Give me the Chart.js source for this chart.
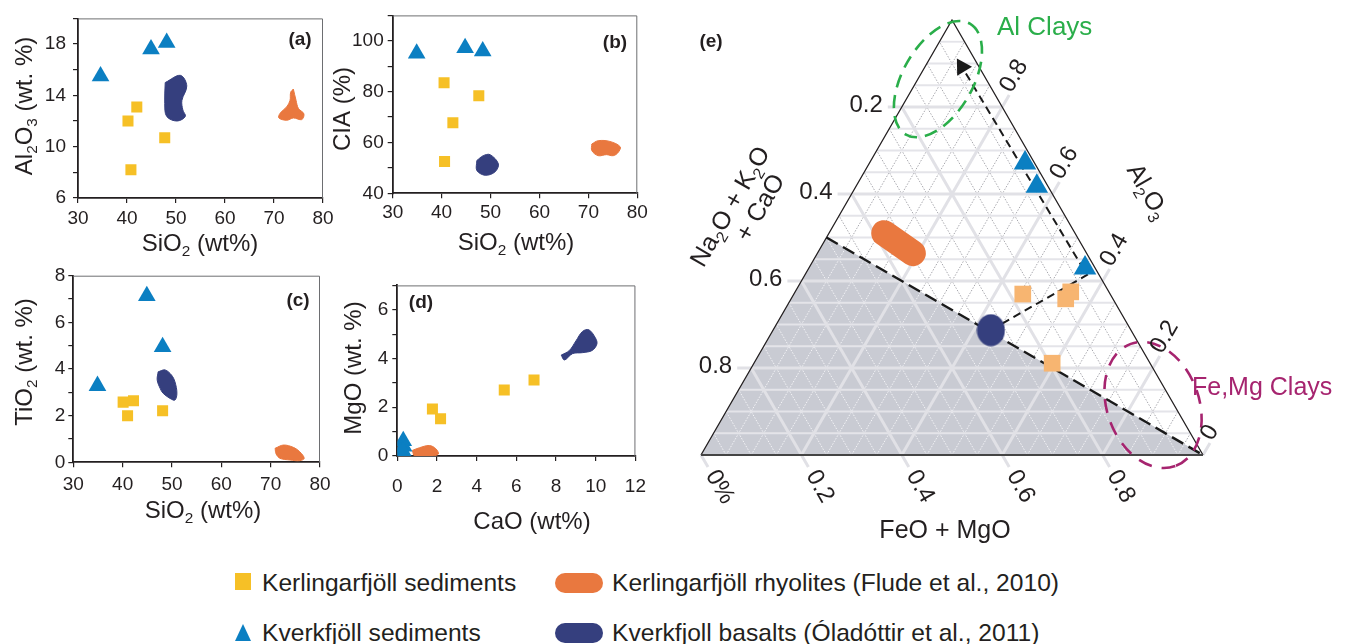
<!DOCTYPE html>
<html><head><meta charset="utf-8">
<script src="https://cdn.jsdelivr.net/npm/chart.js@4.4.0/dist/chart.umd.min.js"></script>
<style>
html,body{margin:0;padding:0;background:#fff;}
body{width:1352px;height:644px;overflow:hidden;position:relative;font-family:'Liberation Sans',Arial,Helvetica,sans-serif;}
canvas{position:absolute;}
.lt{position:absolute;font-size:24.6px;color:#231f20;white-space:nowrap;line-height:25px;}
.sw{position:absolute;}
</style></head><body>
<canvas id="ca" width="340" height="262" style="left:0;top:0"></canvas>
<canvas id="cb" width="340" height="262" style="left:320px;top:0"></canvas>
<canvas id="cc" width="340" height="290" style="left:0;top:250px"></canvas>
<canvas id="cd" width="340" height="275" style="left:320px;top:270px"></canvas>
<canvas id="ce" width="672" height="560" style="left:680px;top:0"></canvas>

<div class="sw" style="left:235px;top:573px;width:16px;height:17px;background:#f6c026"></div>
<div class="lt" style="left:262px;top:570px">Kerlingarfjöll sediments</div>
<div class="sw" style="left:555px;top:573px;width:48px;height:20px;border-radius:10px;background:#e9783f"></div>
<div class="lt" style="left:612px;top:570px">Kerlingarfjöll rhyolites (Flude et al., 2010)</div>
<div class="sw" style="left:235px;top:624px;width:0;height:0;border-left:8px solid transparent;border-right:8px solid transparent;border-bottom:17px solid #0b7fc2"></div>
<div class="lt" style="left:262px;top:620px">Kverkfjöll sediments</div>
<div class="sw" style="left:555px;top:623px;width:48px;height:20px;border-radius:10px;background:#353f7e"></div>
<div class="lt" style="left:612px;top:620px">Kverkfjoll basalts (Óladóttir et al., 2011)</div>

<script>
// ===================== DATA =====================
// (a) SiO2 vs Al2O3
const aKerSedSi = [42.0, 40.2, 47.7, 40.8];
const aKerSedAl = [13.1, 12.0, 10.7, 8.2];
const aKvkSedSi = [34.6, 44.9, 48.1];
const aKvkSedAl = [15.5, 17.6, 18.1];
const aBasaltSi = [47.8, 50.9, 52.2, 51.2, 51.4, 51.9, 50.2, 48.1, 47.7];
const aBasaltAl = [15.0, 15.56, 14.74, 13.6, 12.86, 12.36, 12.0, 12.36, 13.36];
const aRhyoSi = [73.95, 74.5, 74.97, 76.1, 75.66, 73.95, 72.6, 71.0, 71.24, 72.6, 73.27, 73.4];
const aRhyoAl = [14.49, 13.61, 12.99, 12.56, 12.11, 12.24, 12.06, 12.24, 12.61, 13.11, 13.61, 14.24];
const aXTicks = [30, 40, 50, 60, 70, 80];
const aYTicks = [6, 10, 14, 18];

// (b) SiO2 vs CIA
const bKerSedSi = [40.5, 47.6, 42.3, 40.6];
const bKerSedCIA = [83.5, 78.4, 67.8, 52.5];
const bKvkSedSi = [34.9, 44.8, 48.4];
const bKvkSedCIA = [95.0, 97.2, 95.9];
const bBasaltSi = [47.2, 48.5, 49.9, 51.6, 50.9, 48.9, 47.2];
const bBasaltCIA = [52.9, 54.8, 55.2, 51.6, 48.4, 47.1, 49.0];
const bRhyoSi = [70.7, 72.0, 74.4, 76.5, 76.1, 75.1, 73.7, 72.0, 70.7];
const bRhyoCIA = [59.4, 60.7, 60.4, 58.3, 56.1, 54.8, 55.2, 54.8, 56.8];
const bXTicks = [30, 40, 50, 60, 70, 80];
const bYTicks = [40, 60, 80, 100];

// (c) SiO2 vs TiO2
const cKerSedSi = [40.1, 42.2, 41.0, 48.1];
const cKerSedTi = [2.58, 2.64, 2.0, 2.21];
const cKvkSedSi = [44.9, 48.1, 34.9];
const cKvkSedTi = [7.13, 4.95, 3.28];
const cBasaltSi = [47.2, 48.6, 49.9, 50.6, 51.0, 50.6, 49.6, 48.2, 47.6, 47.0];
const cBasaltTi = [3.88, 3.96, 3.74, 3.45, 2.96, 2.67, 2.74, 2.96, 3.17, 3.53];
const cRhyoSi = [70.9, 72.6, 74.6, 75.9, 76.8, 75.9, 73.9, 71.9, 71.1];
const cRhyoTi = [0.6, 0.74, 0.64, 0.45, 0.17, 0.07, 0.1, 0.17, 0.36];
const cXTicks = [30, 40, 50, 60, 70, 80];
const cYTicks = [0, 2, 4, 6, 8];

// (d) CaO vs MgO
const dKerSedCa = [1.77, 2.18, 5.39, 6.89];
const dKerSedMg = [1.93, 1.53, 2.71, 3.12];
const dKvkSedCa = [0.3, 0.32, 0.28];
const dKvkSedMg = [0.62, 0.39, 0.2];
const dBasaltCa = [8.26, 8.67, 9.0, 9.33, 9.65, 9.98, 10.06, 9.82, 9.33, 8.83, 8.42];
const dBasaltMg = [4.14, 4.33, 4.72, 5.11, 5.18, 4.85, 4.6, 4.33, 4.24, 4.2, 3.94];
const dRhyoCa = [0.76, 1.12, 1.61, 1.94, 2.07, 1.77, 1.28, 0.87];
const dRhyoMg = [0.23, 0.34, 0.43, 0.3, 0.08, 0.0, -0.03, 0.0];
const dXTicks = [0, 2, 4, 6, 8, 10, 12];
const dYTicks = [0, 2, 4, 6];

// (e) ternary: Al2O3 fraction (A) and FeO+MgO fraction (FM)
const eKerSedA = [0.370, 0.375, 0.359, 0.211];
const eKerSedFM = [0.456, 0.549, 0.547, 0.594];
const eKvkSedA = [0.671, 0.618, 0.430];
const eKvkSedFM = [0.310, 0.360, 0.550];
const eBasaltA = [0.287];
const eBasaltFM = [0.434];
const eRhyoA = [0.510, 0.464];
const eRhyoFM = [0.110, 0.190];
const eTrendA = [0.287, 0.414, 0.892];
const eTrendFM = [0.434, 0.562, 0.074];
const eFieldA = [0, 0.5, 0];
const eFieldFM = [0, 0, 1];
const eBoundaryA = [0.5, 0];
const eBoundaryFM = [0, 1];
const eClayNames = ['Al Clays', 'Fe,Mg Clays'];
const eClayA = [0.864, 0.115];
const eClayFM = [0.040, 0.843];
const eLeftTickA = [0.8, 0.6, 0.4, 0.2];
const eLeftTickLabels = ['0.2', '0.4', '0.6', '0.8'];
const eBottomTickPos = [0, 0.2, 0.4, 0.6, 0.8];
const eBottomTickLabels = ['0%', '0.2', '0.4', '0.6', '0.8'];
const eRightTickA = [0, 0.2, 0.4, 0.6, 0.8];
const eRightTickLabels = ['0', '0.2', '0.4', '0.6', '0.8'];

// ===================== STYLE / HELPERS =====================
const FONT = "'Liberation Sans', Arial, Helvetica, sans-serif";
const INK = '#231f20';
const C_YEL = '#f6c026', C_BLUE = '#0b7fc2', C_NAVY = '#353f7e', C_ORG = '#e9783f', C_PEACH = '#f7b571';

const pts = (xs, ys) => xs.map((x, i) => ({x, y: ys[i]}));
const closed = (xs, ys) => { const p = pts(xs, ys); p.push({...p[0]}); return p; };

function drawRich(ctx, parts, x, y, rot, size, color, align) {
  ctx.save();
  ctx.translate(x, y); ctx.rotate(rot * Math.PI / 180);
  ctx.fillStyle = color; ctx.textBaseline = 'middle'; ctx.textAlign = 'left';
  let w = 0;
  for (const [t, s] of parts) { ctx.font = (s ? size * 0.64 : size) + 'px ' + FONT; w += ctx.measureText(t).width; }
  let cx = align === 'left' ? 0 : (align === 'right' ? -w : -w / 2);
  for (const [t, s] of parts) {
    ctx.font = (s ? size * 0.64 : size) + 'px ' + FONT;
    ctx.fillText(t, cx, s ? size * 0.33 : 0);
    cx += ctx.measureText(t).width;
  }
  ctx.restore();
}

function makePanel(id, o) {
  const frame = {
    id: 'frame_' + id,
    afterDraw(chart) {
      const {ctx, chartArea: ca} = chart;
      ctx.save();
      ctx.strokeStyle = '#6d6e71'; ctx.lineWidth = 1;
      ctx.beginPath();
      ctx.moveTo(ca.left, ca.top + 0.5); ctx.lineTo(ca.right - 0.5, ca.top + 0.5); ctx.lineTo(ca.right - 0.5, ca.bottom);
      ctx.stroke();
      drawRich(ctx, o.xTitle, o.xTitlePos[0], o.xTitlePos[1], 0, 24, INK, 'center');
      drawRich(ctx, o.yTitle, o.yTitlePos[0], o.yTitlePos[1], -90, 24, INK, 'center');
      ctx.font = 'bold 19px ' + FONT; ctx.fillStyle = INK; ctx.textAlign = 'center'; ctx.textBaseline = 'middle';
      ctx.fillText(o.tag, o.tagPos[0], o.tagPos[1]);
      ctx.restore();
    }
  };
  const blob = (data, color) => ({type: 'line', data, fill: 'shape', backgroundColor: color, borderColor: color,
    borderWidth: 1, tension: 0.35, pointRadius: 0, order: 5});
  return new Chart(document.getElementById(id), {
    type: 'scatter',
    data: {datasets: [
      {label: 'Kerlingarfjöll sediments', data: o.ker, pointStyle: 'rect', pointRadius: 7.8, backgroundColor: C_YEL, borderWidth: 0, order: 1},
      {label: 'Kverkfjöll sediments', data: o.kvk, pointStyle: 'triangle', pointRadius: 10.2, backgroundColor: C_BLUE, borderWidth: 0, order: 1},
      blob(o.basalt, C_NAVY),
      blob(o.rhyo, C_ORG)
    ]},
    options: {
      responsive: false, animation: false, devicePixelRatio: 1, events: [],
      layout: {padding: {left: 0, right: o.padR, top: o.padT, bottom: 0}},
      plugins: {legend: {display: false}, tooltip: {enabled: false}},
      scales: {
        x: {type: 'linear', min: o.xMin, max: o.xMax, afterFit: s => { s.height = o.xH; },
          ticks: {stepSize: o.xStep, autoSkip: false, maxRotation: 0, padding: o.xPad, color: INK,
            font: {size: 19, family: FONT}, callback: v => o.xLabels.includes(v) ? String(v) : ''},
          grid: {display: true, drawOnChartArea: false, drawTicks: true, tickLength: 5, color: INK, lineWidth: 1.2},
          border: {display: true, color: INK, width: 1.8}},
        y: {type: 'linear', min: o.yMin, max: o.yMax, afterFit: s => { s.width = o.yW; },
          ticks: {stepSize: o.yStep, autoSkip: false, padding: o.yPad, color: INK,
            font: {size: 19, family: FONT}, callback: v => o.yLabels.includes(v) ? String(v) : ''},
          grid: {display: true, drawOnChartArea: false, drawTicks: true, tickLength: 5, color: INK, lineWidth: 1.2},
          border: {display: true, color: INK, width: 1.8}}
      }
    },
    plugins: [frame]
  });
}

makePanel('ca', {
  ker: pts(aKerSedSi, aKerSedAl), kvk: pts(aKvkSedSi, aKvkSedAl),
  basalt: closed(aBasaltSi, aBasaltAl), rhyo: closed(aRhyoSi, aRhyoAl),
  xMin: 30, xMax: 80, xStep: 10, xLabels: aXTicks, yMin: 6, yMax: 20, yStep: 2, yLabels: aYTicks,
  padR: 17, padT: 12, xH: 64, yW: 78, xPad: 4, yPad: 7,
  xTitle: [['SiO'], ['2', 1], [' (wt%)']], xTitlePos: [200, 244],
  yTitle: [['Al'], ['2', 1], ['O'], ['3', 1], [' (wt. %)']], yTitlePos: [25, 106],
  tag: '(a)', tagPos: [300, 40]
});
makePanel('cb', {
  ker: pts(bKerSedSi, bKerSedCIA), kvk: pts(bKvkSedSi, bKvkSedCIA),
  basalt: closed(bBasaltSi, bBasaltCIA), rhyo: closed(bRhyoSi, bRhyoCIA),
  xMin: 30, xMax: 80, xStep: 10, xLabels: bXTicks, yMin: 40, yMax: 110, yStep: 10, yLabels: bYTicks,
  padR: 22.7, padT: 12.7, xH: 68.7, yW: 72.7, xPad: 3, yPad: 4,
  xTitle: [['SiO'], ['2', 1], [' (wt%)']], xTitlePos: [196, 243],
  yTitle: [['CIA (%)']], yTitlePos: [23, 109],
  tag: '(b)', tagPos: [295, 43]
});
makePanel('cc', {
  ker: pts(cKerSedSi, cKerSedTi), kvk: pts(cKvkSedSi, cKvkSedTi),
  basalt: closed(cBasaltSi, cBasaltTi), rhyo: closed(cRhyoSi, cRhyoTi),
  xMin: 30, xMax: 80, xStep: 10, xLabels: cXTicks, yMin: 0, yMax: 8, yStep: 1, yLabels: cYTicks,
  padR: 20, padT: 25.7, xH: 77.7, yW: 73.3, xPad: 6, yPad: 3,
  xTitle: [['SiO'], ['2', 1], [' (wt%)']], xTitlePos: [203, 261],
  yTitle: [['TiO'], ['2', 1], [' (wt. %)']], yTitlePos: [25, 112],
  tag: '(c)', tagPos: [298, 51]
});
makePanel('cd', {
  ker: pts(dKerSedCa, dKerSedMg), kvk: pts(dKvkSedCa, dKvkSedMg),
  basalt: closed(dBasaltCa, dBasaltMg), rhyo: closed(dRhyoCa, dRhyoMg),
  xMin: 0, xMax: 12, xStep: 2, xLabels: dXTicks, yMin: 0, yMax: 7, yStep: 1, yLabels: dYTicks,
  padR: 19, padT: 6.7, xH: 89, yW: 77.3, xPad: 14, yPad: 4,
  xTitle: [['CaO (wt%)']], xTitlePos: [212, 252],
  yTitle: [['MgO (wt. %)']], yTitlePos: [34, 98],
  tag: '(d)', tagPos: [101, 33]
});

// ===================== TERNARY (e) =====================
const T = (a, fm) => ({x: fm + a / 2, y: a});
const tpts = (as, fms) => as.map((a, i) => T(a, fms[i]));

const basaltImg = (() => {
  const c = document.createElement('canvas'); c.width = 29; c.height = 33;
  const g = c.getContext('2d'); g.fillStyle = C_NAVY;
  g.beginPath(); g.ellipse(14.5, 16.5, 14, 16, 0, 0, Math.PI * 2); g.fill();
  return c;
})();

const clayStyle = [
  {rx: 64, ry: 35, rot: -60, color: '#2aae4a', dash: [13, 8], text: [997 - 680, 28], size: 26},
  {rx: 65, ry: 46, rot: 70, color: '#a6246f', dash: [14, 10], text: [1192 - 680, 388], size: 25}
];

const ternGrid = {
  id: 'ternGrid',
  afterDatasetDraw(chart, args) {
    if (args.index !== 0) return;
    const ctx = chart.ctx, xs = chart.scales.x, ys = chart.scales.y;
    const P = (a, fm) => [xs.getPixelForValue(fm + a / 2), ys.getPixelForValue(a)];
    const line = (p, q) => { ctx.beginPath(); ctx.moveTo(p[0], p[1]); ctx.lineTo(q[0], q[1]); ctx.stroke(); };
    const steps = []; for (let i = 1; i < 20; i++) steps.push(i / 20);
    ctx.save();
    const diag = (color) => {
      ctx.strokeStyle = color; ctx.lineWidth = 1; ctx.setLineDash([1.5, 1.5]);
      for (const c of steps) { line(P(0, c), P(1 - c, c)); line(P(0, c), P(c, 0)); }
    };
    diag('#a8a8ae');
    ctx.save();
    const f = tpts(eFieldA, eFieldFM).map(p => [xs.getPixelForValue(p.x), ys.getPixelForValue(p.y)]);
    ctx.beginPath(); ctx.moveTo(f[0][0], f[0][1]); f.slice(1).forEach(p => ctx.lineTo(p[0], p[1])); ctx.closePath(); ctx.clip();
    ctx.fillStyle = '#c9cbd3'; ctx.fillRect(0, 0, chart.width, chart.height);
    diag('#f3f3f6');
    ctx.restore();
    ctx.setLineDash([]);
    ctx.strokeStyle = '#e4e4e9'; ctx.lineWidth = 1.8;
    for (const k of steps) line(P(k, 0), P(k, 1 - k));
    ctx.lineWidth = 3; ctx.strokeStyle = '#e1e1e6';
    const u = 0.5, v = Math.sqrt(3) / 2, stub = 14;
    for (const k of [0.2, 0.4, 0.6, 0.8]) {
      const p = P(k, 0), q = P(k, 1 - k); line([p[0] - stub, p[1]], q);
      const b = P(0, k), r = P(1 - k, k); line(b, [r[0] + stub * u, r[1] - stub * v]);
      const b2 = P(0, k), l2 = P(k, 0); line([b2[0] + stub * u, b2[1] + stub * v], l2);
    }
    const bl = P(0, 0), br = P(0, 1);
    line(bl, [bl[0] + stub * u, bl[1] + stub * v]);
    line(br, [br[0] + stub * u, br[1] - stub * v]);
    // triangle outline
    ctx.strokeStyle = INK; ctx.lineWidth = 1.3;
    const ap = P(1, 0);
    ctx.beginPath(); ctx.moveTo(bl[0], bl[1]); ctx.lineTo(ap[0], ap[1]); ctx.lineTo(br[0], br[1]); ctx.stroke();
    ctx.strokeStyle = '#454545'; ctx.lineWidth = 2;
    line(bl, br);
    ctx.restore();
  },
  afterDraw(chart) {
    const ctx = chart.ctx, xs = chart.scales.x, ys = chart.scales.y;
    const P = (a, fm) => [xs.getPixelForValue(fm + a / 2), ys.getPixelForValue(a)];
    ctx.save();
    // clay fields
    eClayNames.forEach((name, i) => {
      const st = clayStyle[i], c = P(eClayA[i], eClayFM[i]);
      ctx.save();
      ctx.strokeStyle = st.color; ctx.lineWidth = 2.6; ctx.setLineDash(st.dash);
      ctx.beginPath(); ctx.ellipse(c[0], c[1], st.rx, st.ry, st.rot * Math.PI / 180, 0, Math.PI * 2); ctx.stroke();
      ctx.restore();
      ctx.font = st.size + 'px ' + FONT; ctx.fillStyle = st.color; ctx.textAlign = 'left'; ctx.textBaseline = 'middle';
      ctx.fillText(name, st.text[0], st.text[1]);
    });
    // tick labels
    const u = 0.5, v = Math.sqrt(3) / 2;
    ctx.fillStyle = INK; ctx.font = '24px ' + FONT;
    ctx.textBaseline = 'middle'; ctx.textAlign = 'right';
    eLeftTickA.forEach((a, i) => { const p = P(a, 0); ctx.fillText(eLeftTickLabels[i], p[0] - 19, p[1] - 2); });
    ctx.textAlign = 'left';
    eBottomTickPos.forEach((c, i) => {
      const p = P(0, c);
      ctx.save(); ctx.translate(p[0] + 22 * u - 1, p[1] + 22 * v - 2); ctx.rotate(Math.PI / 3);
      ctx.fillText(eBottomTickLabels[i], 0, 0); ctx.restore();
    });
    eRightTickA.forEach((a, i) => {
      const p = P(a, 1 - a);
      ctx.save(); ctx.translate(p[0] + 19 * u - 6, p[1] - 19 * v); ctx.rotate(-Math.PI / 3);
      ctx.fillText(eRightTickLabels[i], 0, 0); ctx.restore();
    });
    // axis titles
    ctx.textAlign = 'center'; ctx.font = '25px ' + FONT;
    ctx.fillText('FeO + MgO', 265, 531);
    drawRich(ctx, [['Na'], ['2', 1], ['O + K'], ['2', 1], ['O']], 51, 207, -60, 25, INK, 'center');
    drawRich(ctx, [['+ CaO']], 81, 208, -60, 25, INK, 'center');
    drawRich(ctx, [['Al'], ['2', 1], ['O'], ['3', 1]], 467, 192, 60, 25, INK, 'center');
    ctx.font = 'bold 19px ' + FONT; ctx.textAlign = 'center'; ctx.fillStyle = INK;
    ctx.fillText('(e)', 31, 42);
    ctx.restore();
  }
};

new Chart(document.getElementById('ce'), {
  type: 'scatter',
  data: {datasets: [
    {type: 'line', label: 'field', data: tpts(eFieldA, eFieldFM), fill: 'origin', backgroundColor: '#c9cbd3',
      borderWidth: 0, borderColor: 'rgba(0,0,0,0)', pointRadius: 0, tension: 0, order: 100, clip: false},
    {type: 'line', label: 'boundary', data: tpts(eBoundaryA, eBoundaryFM), borderColor: '#1a1a1a', borderWidth: 2.4,
      borderDash: [13, 6], pointRadius: 0, fill: false, order: 90, clip: false},
    {type: 'line', label: 'trend', data: tpts(eTrendA, eTrendFM), borderColor: '#1a1a1a', borderWidth: 2,
      borderDash: [8, 5], pointRadius: [0, 0, 10], pointStyle: 'triangle', pointRotation: -31,
      pointBackgroundColor: '#1a1a1a', pointBorderWidth: 0, fill: false, order: 80, clip: false},
    {type: 'line', label: 'Kerlingarfjöll rhyolites', data: tpts(eRhyoA, eRhyoFM), borderColor: C_ORG, borderWidth: 26,
      borderCapStyle: 'round', pointRadius: 0, fill: false, order: 70, clip: false},
    {label: 'Kverkfjoll basalts', data: tpts(eBasaltA, eBasaltFM), pointStyle: basaltImg, pointRadius: 15, order: 60, clip: false},
    {label: 'Kerlingarfjöll sediments', data: tpts(eKerSedA, eKerSedFM), pointStyle: 'rect', pointRadius: 11.8,
      backgroundColor: C_PEACH, borderWidth: 0, order: 50, clip: false},
    {label: 'Kverkfjöll sediments', data: tpts(eKvkSedA, eKvkSedFM), pointStyle: 'triangle', pointRadius: 13,
      backgroundColor: C_BLUE, borderWidth: 0, order: 40, clip: false}
  ]},
  options: {
    responsive: false, animation: false, devicePixelRatio: 1, events: [],
    layout: {padding: {left: 21, right: 149, top: 20, bottom: 105}},
    plugins: {legend: {display: false}, tooltip: {enabled: false}},
    scales: {x: {type: 'linear', min: 0, max: 1, display: false}, y: {type: 'linear', min: 0, max: 1, display: false}}
  },
  plugins: [ternGrid]
});
</script>
</body></html>
